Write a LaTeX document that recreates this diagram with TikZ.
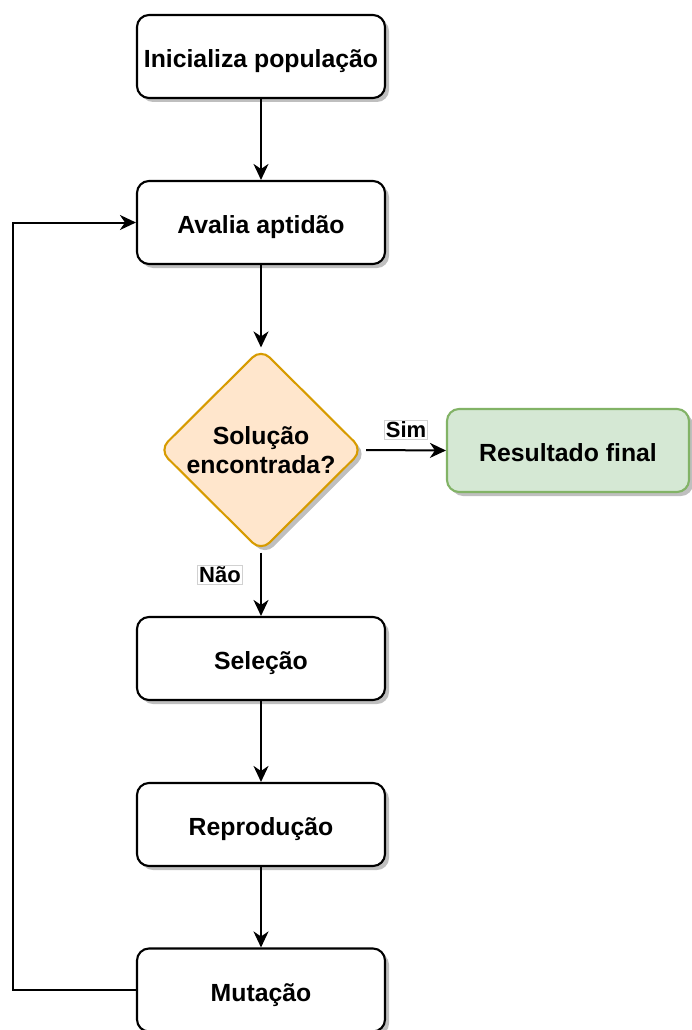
\documentclass[tikz,border=0pt]{standalone}
\usepackage{fontspec}
\setmainfont{Liberation Sans}
\usetikzlibrary{shapes.geometric,shadows,arrows.meta}
\definecolor{decfill}{HTML}{FFE6CC}
\definecolor{decline}{HTML}{D79B00}
\definecolor{endfill}{HTML}{D5E8D4}
\definecolor{endline}{HTML}{82B366}
\tikzset{
  shade3/.style={drop shadow={shadow xshift=4pt, shadow yshift=-4pt, fill=black!25, opacity=1}},
  stepbox/.style={draw, line width=2.1pt, rounded corners=12pt, fill=white, shade3,
    minimum width=248pt, minimum height=83pt, inner sep=0pt,
    text height=22pt, text depth=0pt,
    font=\fontsize{24.8}{28}\selectfont\bfseries},
  decision/.style={diamond, draw=decline, line width=2.1pt, rounded corners=12pt, fill=decfill, shade3,
    minimum width=204pt, minimum height=203pt, inner sep=0pt, align=center,
    font=\fontsize{24.8}{28.5}\selectfont\bfseries},
  endbox/.style={stepbox, draw=endline, fill=endfill, minimum width=242pt},
  edgelabel/.style={draw=black!18, line width=0.6pt, fill=white, inner sep=1.5pt,
    font=\fontsize{22}{24}\selectfont\bfseries},
  flow/.style={line width=2pt, -{Stealth[length=16pt, width=15pt, inset=5pt]}},
}
\begin{document}
\begin{tikzpicture}[x=1pt, y=-1pt]
\useasboundingbox (0,0) rectangle (691,1030);

\node[stepbox] (init) at (261,56.5) {Inicializa população};
\node[stepbox] (eval) at (261,222.5) {Avalia aptidão};
\node[decision] (dec) at (261,450) {Solução\\encontrada?};
\node[endbox] (res) at (568,450.5) {Resultado final};
\node[stepbox] (sel) at (261,658.5) {Seleção};
\node[stepbox] (rep) at (261,824.5) {Reprodução};
\node[stepbox] (mut) at (261,990) {Mutação};
\coordinate (loopbot) at (13,990);
\coordinate (looptop) at (13,222.5);

\draw[flow] (init) -- (eval);
\draw[flow] (eval) -- (dec);
\draw[flow] (dec.east) ++(2,0) -- (res.west);
\draw[flow] (dec.south) -- (sel.north);
\draw[flow] (sel) -- (rep);
\draw[flow] (rep) -- (mut);
\draw[flow] (mut.west) -- (loopbot) -- (looptop) -- (eval.west);

\node[edgelabel] (sim) at (406,429.5) {Sim};
\node[edgelabel] (nao) at (220,575) {Não};
\end{tikzpicture}
\end{document}
